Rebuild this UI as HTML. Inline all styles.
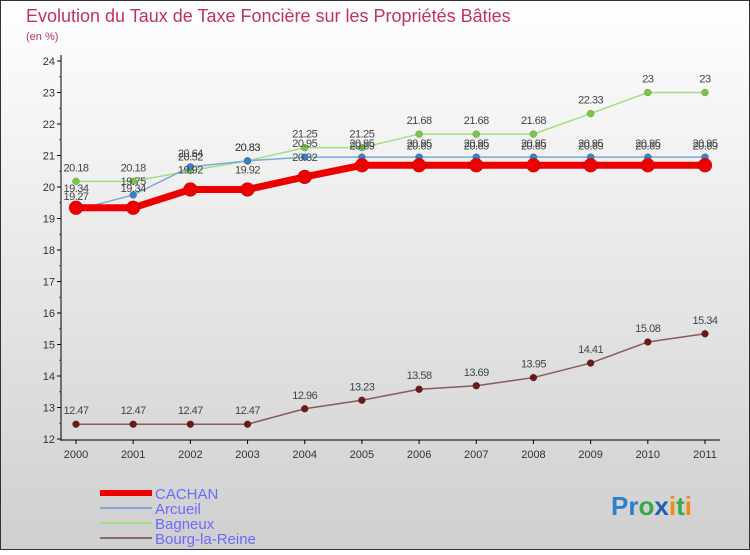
<!DOCTYPE html>
<html><head><meta charset="utf-8"><style>
body{margin:0;width:750px;height:550px;overflow:hidden;font-family:"Liberation Sans",sans-serif}
</style></head><body>
<svg width="750" height="550" xmlns="http://www.w3.org/2000/svg">
<defs><linearGradient id="bg" x1="0" y1="0" x2="0" y2="1"><stop offset="0" stop-color="#ffffff"/><stop offset="1" stop-color="#cfcfcf"/></linearGradient></defs>
<rect x="0.5" y="0.5" width="749" height="549" fill="url(#bg)" stroke="#333"/>
<text x="26" y="22" font-size="18" fill="#c0306a">Evolution du Taux de Taxe Foncière sur les Propriétés Bâties</text>
<text x="26" y="40" font-size="11" fill="#c0306a">(en %)</text>
<g id="axes"></g><g id="series"></g><g id="legend"></g>
<text x="611" y="515" font-size="26" font-weight="bold"><tspan fill="#2a7fd0">Pr</tspan><tspan fill="#3aa84a">o</tspan><tspan fill="#1e5fb0">x</tspan><tspan fill="#f08a1a">i</tspan><tspan fill="#3aa84a">t</tspan><tspan fill="#f08a1a">i</tspan></text>
</svg>
<script>
const years=[2000,2001,2002,2003,2004,2005,2006,2007,2008,2009,2010,2011];
const yTicks=[12,13,14,15,16,17,18,19,20,21,22,23,24];
const cachan=[19.34,19.34,19.92,19.92,20.32,20.69,20.69,20.69,20.69,20.69,20.69,20.69];
const arcueil=[19.27,19.75,20.64,20.83,20.95,20.95,20.95,20.95,20.95,20.95,20.95,20.95];
const bagneux=[20.18,20.18,20.52,20.83,21.25,21.25,21.68,21.68,21.68,22.33,23,23];
const bourg=[12.47,12.47,12.47,12.47,12.96,13.23,13.58,13.69,13.95,14.41,15.08,15.34];
const NS='http://www.w3.org/2000/svg';
const X=i=>76+i*(705-76)/11;
const Y=v=>439-(v-12)*31.5;
function mk(tag,attrs,parent,text){const e=document.createElementNS(NS,tag);for(const k in attrs)e.setAttribute(k,attrs[k]);if(text!=null)e.textContent=text;parent.appendChild(e);return e;}
const ax=document.getElementById('axes');
let a=mk('line',{x1:61,y1:55,x2:61,y2:441,stroke:'#000'},ax);


a=mk('line',{x1:61,y1:440,x2:720,y2:440,stroke:'#000'},ax);


yTicks.forEach(t=>{
 mk('line',{x1:57,y1:Y(t),x2:61,y2:Y(t),stroke:'#000'},ax);
 if(t<24)mk('line',{x1:59,y1:Y(t+0.5),x2:61,y2:Y(t+0.5),stroke:'#e00'},ax);
 const l=mk('text',{x:55,y:Y(t)+4,'font-size':11,'text-anchor':'end',fill:'#333'},ax,String(t));
 
 
});
years.forEach((y,i)=>{
 mk('line',{x1:X(i),y1:440,x2:X(i),y2:444,stroke:'#000'},ax);
 const l=mk('text',{x:X(i),y:458,'font-size':11,'text-anchor':'middle',fill:'#333'},ax,String(y));
 
 
});
const sg=document.getElementById('series');
function series(name,data,color,w,r,dot,lab){
 const g=mk('g',{},sg);
 
 
 const p=mk('polyline',{points:data.map((v,i)=>X(i)+','+Y(v)).join(' '),fill:'none',stroke:color,'stroke-width':w},g);
 
 
 data.forEach((v,i)=>{
  const c=mk('circle',{cx:X(i),cy:Y(v),r:r,fill:dot,stroke:'rgba(0,0,0,0.3)','stroke-width':0.5},g);
  
  
  const t=mk('text',{x:X(i),y:Y(v)+lab,'font-size':11,'text-anchor':'middle',fill:'#444','letter-spacing':'-0.5'},g,String(v));
  
  
 });
}
series('bourg-la-reine',bourg,'#8b5a5a',1.5,3.5,'#6b1a1a',-10);
series('bagneux',bagneux,'#a0e080',1.5,3.5,'#78c848',-10);
series('arcueil',arcueil,'#7aaad8',1.5,3.5,'#3a80c8',-10);
series('cachan',cachan,'#ee0000',7,7,'#ee0000',-16);
const lg=document.getElementById('legend');
[['CACHAN','#ee0000',6],['Arcueil','#7aaad8',2],['Bagneux','#a0e080',2],['Bourg-la-Reine','#8b6a6a',2]].forEach((e,i)=>{
 const y=493+i*15;
 const l=mk('line',{x1:100,y1:y,x2:152,y2:y,stroke:e[1],'stroke-width':e[2]},lg);
 
 
 const t=mk('text',{x:155,y:y+6,'font-size':15,fill:'#6a6aff'},lg,e[0]);
 
 
});
</script>
</body></html>
